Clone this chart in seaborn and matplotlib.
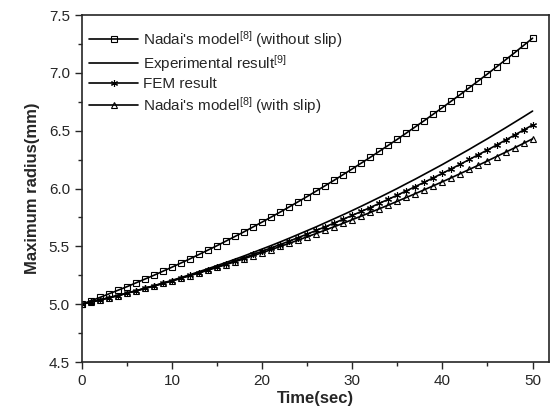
import numpy as np
import pandas as pd
import matplotlib
matplotlib.use('Agg')
import matplotlib.pyplot as plt
import seaborn as sns
from matplotlib.ticker import MultipleLocator

# time (sec)
time = list(range(0, 51))

# Nadai's model (without slip)
nadai_noslip = [5.000, 5.029, 5.058, 5.089, 5.120, 5.151, 5.184, 5.217, 5.250, 5.285,
                5.320, 5.356, 5.392, 5.430, 5.468, 5.506, 5.546, 5.586, 5.626, 5.668,
                5.710, 5.753, 5.796, 5.841, 5.886, 5.931, 5.978, 6.025, 6.072, 6.121,
                6.170, 6.220, 6.270, 6.322, 6.374, 6.426, 6.480, 6.534, 6.588, 6.644,
                6.700, 6.757, 6.814, 6.873, 6.932, 6.991, 7.052, 7.113, 7.174, 7.237,
                7.300]

# Experimental result
experimental = [5.000, 5.018, 5.036, 5.055, 5.075, 5.095, 5.116, 5.138, 5.160, 5.183,
                5.206, 5.230, 5.255, 5.281, 5.307, 5.334, 5.361, 5.389, 5.417, 5.447,
                5.477, 5.507, 5.538, 5.570, 5.603, 5.636, 5.669, 5.704, 5.739, 5.774,
                5.810, 5.847, 5.885, 5.923, 5.962, 6.001, 6.042, 6.082, 6.124, 6.166,
                6.208, 6.252, 6.296, 6.340, 6.386, 6.431, 6.478, 6.525, 6.573, 6.621,
                6.670]

# FEM result
fem = [5.000, 5.018, 5.036, 5.055, 5.074, 5.094, 5.115, 5.136, 5.157, 5.179,
       5.202, 5.225, 5.249, 5.273, 5.298, 5.323, 5.349, 5.375, 5.402, 5.430,
       5.458, 5.487, 5.516, 5.545, 5.576, 5.606, 5.638, 5.669, 5.702, 5.735,
       5.768, 5.802, 5.836, 5.872, 5.907, 5.943, 5.980, 6.017, 6.055, 6.093,
       6.132, 6.171, 6.211, 6.252, 6.293, 6.334, 6.376, 6.419, 6.462, 6.506,
       6.550]

# Nadai's model (with slip)
nadai_slip = [5.000, 5.018, 5.037, 5.056, 5.075, 5.095, 5.116, 5.136, 5.158, 5.179,
              5.201, 5.224, 5.247, 5.270, 5.294, 5.318, 5.342, 5.367, 5.393, 5.419,
              5.445, 5.471, 5.499, 5.526, 5.554, 5.583, 5.611, 5.641, 5.670, 5.700,
              5.731, 5.762, 5.793, 5.825, 5.857, 5.890, 5.923, 5.956, 5.990, 6.024,
              6.059, 6.094, 6.130, 6.166, 6.202, 6.239, 6.277, 6.314, 6.352, 6.391,
              6.430]

labels = ["Nadai's model$^{[8]}$ (without slip)",
          "Experimental result$^{[9]}$",
          "FEM result",
          "Nadai's model$^{[8]}$ (with slip)"]

sns.set_style('ticks')
plt.rcParams['font.family'] = ['Liberation Sans', 'DejaVu Sans']
plt.rcParams['mathtext.default'] = 'regular'

fig = plt.figure(figsize=(5.6, 4.19), dpi=100)
ax = fig.add_axes([0.146, 0.136, 0.834, 0.828])

series = [nadai_noslip, experimental, fem, nadai_slip]
markers = ['s', None, (6, 2, 0), '^']
for vals, lab, mk in zip(series, labels, markers):
    df = pd.DataFrame({'t': time, 'r': vals})
    kw = dict(marker=mk, markersize=5, markerfacecolor='none',
              markeredgecolor='black', markeredgewidth=0.8) if mk else {}
    sns.lineplot(data=df, x='t', y='r', ax=ax, color='black', lw=1.2,
                 label=lab, **kw)

ax.set_xlim(0, 51.8)
ax.set_ylim(4.5, 7.5)
ax.xaxis.set_major_locator(MultipleLocator(10))
ax.xaxis.set_minor_locator(MultipleLocator(5))
ax.yaxis.set_minor_locator(MultipleLocator(0.25))
ax.set_yticks(np.arange(4.5, 7.51, 0.5))
ax.set_yticklabels(['%.1f' % v for v in np.arange(4.5, 7.51, 0.5)])
ax.tick_params(which='major', direction='out', length=5, width=1, labelsize=11)
ax.tick_params(which='minor', direction='out', length=3, width=1)
for s in ax.spines.values():
    s.set_linewidth(1.2)
    s.set_visible(True)

ax.set_xlabel('Time(sec)', fontsize=12, fontweight='bold', labelpad=2)
ax.set_ylabel('Maximum radius(mm)', fontsize=12, fontweight='bold', labelpad=6)

leg = ax.legend(loc='upper left', frameon=False, fontsize=11, handlelength=3.2,
                numpoints=1, labelspacing=0.22, borderaxespad=0.1,
                handletextpad=0.3, bbox_to_anchor=(0.0, 0.982))

fig.savefig('out.png', dpi=100)
